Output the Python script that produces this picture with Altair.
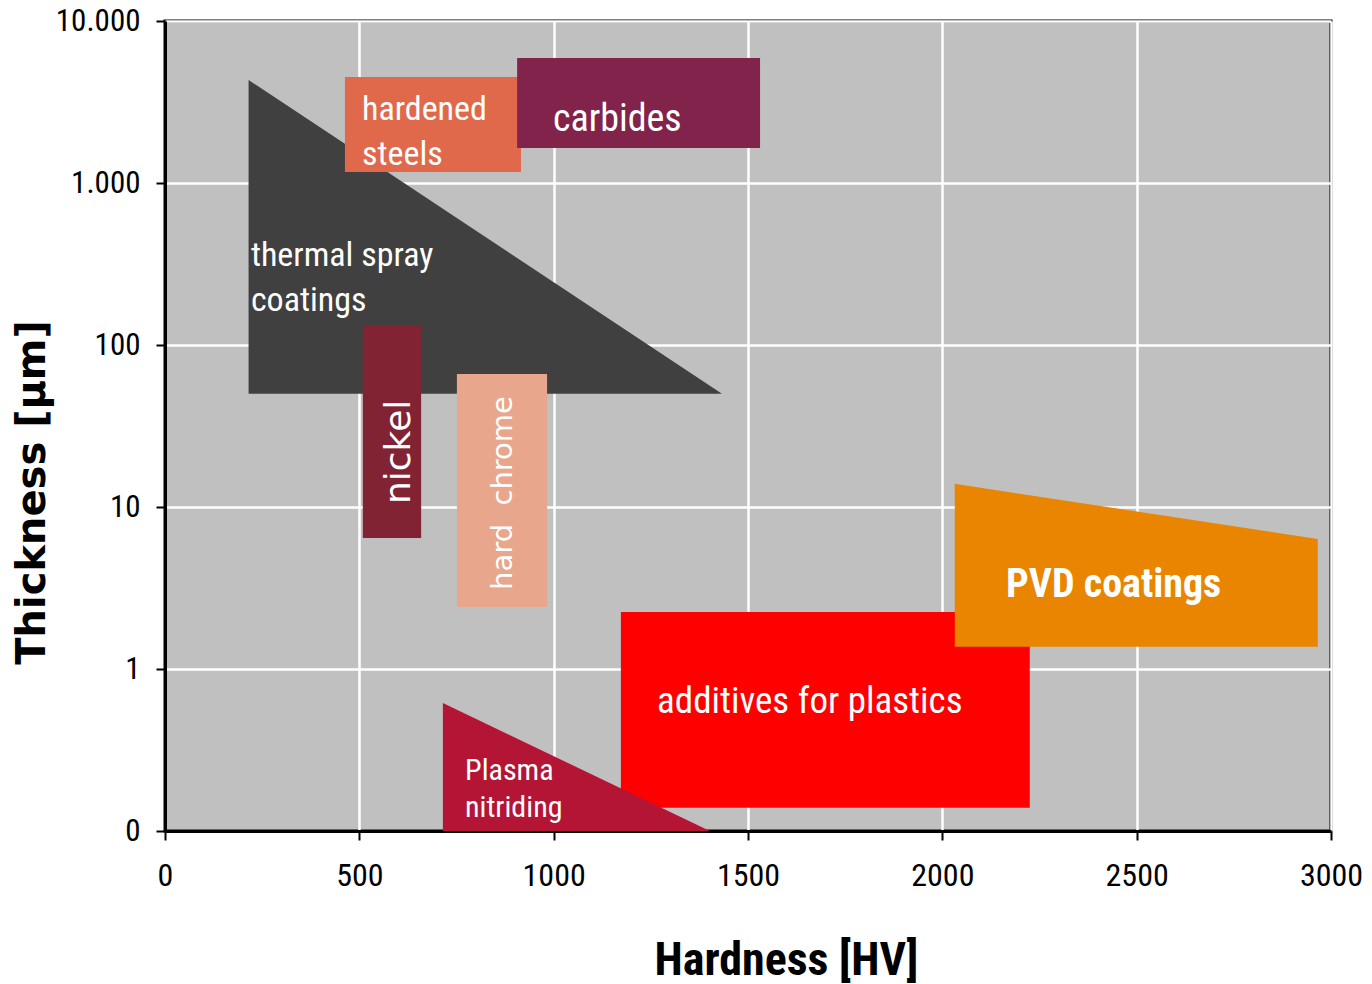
import altair as alt
import pandas as pd

# Rectangular application windows: hardness range [HV] and thickness range [µm]
rect_names = ["hardened steels", "carbides", "nickel", "hard chrome", "additives for plastics"]
rect_hv_lo = [463, 906, 509, 751, 1173]
rect_hv_hi = [916, 1531, 659, 983, 2225]
rect_um_hi = [4510, 5913, 133, 66.2, 2.25]
rect_um_lo = [1170, 1644, 6.44, 2.41, 0.139]
rect_colors = ["#E0694B", "#82234B", "#822333", "#E8A68C", "#FF0000"]

# Sloped windows: two corner points each (left edge, right edge)
thermal_hv = [215, 1433]
thermal_um_top = [4325, 50]
thermal_um_bottom = [50, 50]

plasma_hv = [715, 1402]
plasma_um_top = [0.616, 0.1]
plasma_um_bottom = [0.1, 0.1]

pvd_hv = [2032, 2966]
pvd_um_top = [13.9, 6.35]
pvd_um_bottom = [1.37, 1.37]

poly_names = ["thermal spray coatings", "Plasma nitriding", "PVD coatings"]
poly_colors = ["#404040", "#B51535", "#E98500"]

# Axis ticks
x_ticks = [0, 500, 1000, 1500, 2000, 2500, 3000]
y_ticks = [0.1, 1, 10, 100, 1000, 10000]
y_tick_labels = ["0", "1", "10", "100", "1.000", "10.000"]

NARROW = "Roboto Condensed, Archivo Narrow, sans-serif"
WIDE = "DejaVu Sans, Arial, sans-serif"

all_names = poly_names + rect_names
all_colors = poly_colors + rect_colors
color_scale = alt.Scale(domain=all_names, range=all_colors)

label_expr = " : ".join(
    f"datum.value == {v} ? '{t}'" for v, t in zip(y_ticks, y_tick_labels)
) + " : ''"

x_scale = alt.Scale(domain=[0, 3000], nice=False, zero=False)
y_scale = alt.Scale(type="log", domain=[0.1, 10000], nice=False)

x_axis = alt.Axis(
    values=x_ticks, format="d", title="Hardness [HV]",
    titleFont=NARROW, titleFontSize=46, titleFontWeight="bold",
    titleX=621, titleY=129, titleAlign="center", titleBaseline="middle",
    labelFont=NARROW, labelFontSize=32, labelPadding=20, labelColor="black",
    labelFlush=False,
    tickSize=9, tickWidth=2, tickColor="black",
    domainColor="black", domainWidth=3,
    grid=True, gridColor="white", gridWidth=2.5,
)
y_axis = alt.Axis(
    values=y_ticks, labelExpr=label_expr, title="Thickness [µm]",
    titleFont=WIDE, titleFontSize=40, titleFontWeight="bold",
    titleAngle=270, titleX=-133, titleY=471, titleAlign="center", titleBaseline="middle",
    labelFont=NARROW, labelFontSize=31, labelPadding=16, labelColor="black",
    labelFlush=False,
    tickSize=9, tickWidth=2, tickColor="black",
    domainColor="black", domainWidth=3,
    grid=True, gridColor="white", gridWidth=2.5,
)


def X(field):
    return alt.X(field, type="quantitative", scale=x_scale, axis=x_axis)


def Y(field):
    return alt.Y(field, type="quantitative", scale=y_scale, axis=y_axis, stack=None)


def poly_frame(name, hv, top, bottom):
    return pd.DataFrame({"name": name, "hv": hv, "top": top, "bottom": bottom})


thermal_df = poly_frame(poly_names[0], thermal_hv, thermal_um_top, thermal_um_bottom)
front_df = pd.concat([
    poly_frame(poly_names[1], plasma_hv, plasma_um_top, plasma_um_bottom),
    poly_frame(poly_names[2], pvd_hv, pvd_um_top, pvd_um_bottom),
])
rect_df = pd.DataFrame({
    "name": rect_names, "hv_lo": rect_hv_lo, "hv_hi": rect_hv_hi,
    "um_hi": rect_um_hi, "um_lo": rect_um_lo,
})

color = alt.Color("name:N", scale=color_scale, legend=None)


def area_layer(df):
    return alt.Chart(df).mark_area(opacity=1, interpolate="linear").encode(
        x=X("hv"), y=Y("top"), y2="bottom", color=color, detail="name:N",
    )


thermal = area_layer(thermal_df)
rects = alt.Chart(rect_df).mark_rect(opacity=1).encode(
    x=X("hv_lo"), x2="hv_hi", y=Y("um_hi"), y2="um_lo", color=color,
)
front = area_layer(front_df)


def label(text, hv, um, **style):
    df = pd.DataFrame({"text": [text], "hv": [hv], "um": [um]})
    params = dict(color="white", baseline="middle", align="left", font=NARROW)
    params.update(style)
    return alt.Chart(df).mark_text(**params).encode(x=X("hv"), y=Y("um"), text="text:N")


labels = [
    label("hardened", 507, 2825, fontSize=34),
    label("steels", 507, 1489, fontSize=34),
    label("carbides", 998, 2448, fontSize=38),
    label("thermal spray", 221, 354, fontSize=34),
    label("coatings", 221, 187, fontSize=34),
    label("nickel", 602, 21.9, fontSize=36, font=WIDE, angle=270, align="center"),
    label("hard\u00a0 chrome", 870, 12.2, fontSize=29, font=WIDE, angle=270, align="center"),
    label("additives for plastics", 1266, 0.625, fontSize=37),
    label("PVD coatings", 2164, 3.30, fontSize=40, fontWeight="bold"),
    label("Plasma", 772, 0.234, fontSize=30),
    label("nitriding", 772, 0.139, fontSize=30),
]

chart = alt.layer(thermal, rects, front, *labels).properties(
    width=1166, height=810,
    autosize="none",
    padding={"left": 165, "top": 21, "right": 41, "bottom": 153},
    background="white",
).configure_view(
    fill="#C0C0C0", stroke="black", strokeWidth=3,
)

chart.save("out.html", embed_options={"renderer": "svg", "actions": False})
